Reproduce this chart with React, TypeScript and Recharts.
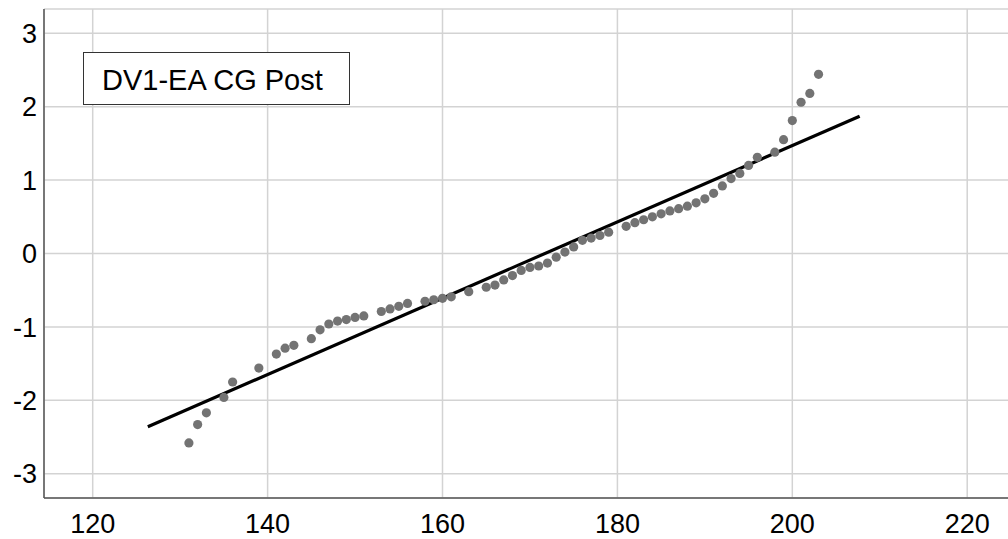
import { ScatterChart, Scatter, XAxis, YAxis, CartesianGrid, ReferenceLine } from 'recharts'

const observed = [
  131, 132, 133, 135, 136, 139, 141, 142, 143, 145, 146, 147, 148, 149, 150, 151,
  153, 154, 155, 156, 158, 159, 160, 161, 163, 165, 166, 167, 168, 169, 170, 171,
  172, 173, 174, 175, 176, 177, 178, 179, 181, 182, 183, 184, 185, 186, 187, 188,
  189, 190, 191, 192, 193, 194, 195, 196, 198, 199, 200, 201, 202, 203
]
const expected = [
  -2.58, -2.33, -2.17, -1.96, -1.75, -1.56, -1.37, -1.29, -1.25, -1.16, -1.04, -0.96, -0.92, -0.9, -0.87, -0.85,
  -0.79, -0.755, -0.72, -0.68, -0.65, -0.63, -0.61, -0.59, -0.52, -0.46, -0.43, -0.36, -0.3, -0.23, -0.19, -0.17,
  -0.13, -0.05, 0.02, 0.09, 0.18, 0.21, 0.245, 0.29, 0.37, 0.42, 0.46, 0.5, 0.54, 0.58, 0.61, 0.645,
  0.69, 0.745, 0.82, 0.92, 1.02, 1.09, 1.2, 1.31, 1.38, 1.55, 1.81, 2.06, 2.18, 2.44
]
// reference line end points
const lineX = [126.3, 207.7]
const lineY = [-2.36, 1.87]

const xTicks = [120, 140, 160, 180, 200, 220]
const yTicks = [-3, -2, -1, 0, 1, 2, 3]
const title = 'DV1-EA CG Post'

const points = observed.map((v, i) => ({ x: v, y: expected[i] }))

const font = '"Liberation Sans", Arial, sans-serif'

const Dot = (props: any) => <circle cx={props.cx} cy={props.cy} r={4.6} fill="#737373" />

export default function App() {
  return (
    <div style={{ position: 'absolute', left: 0, top: 0, width: 1008, height: 539, overflow: 'hidden', background: '#fff', fontFamily: font }}>
      <ScatterChart width={1014} height={539} margin={{ top: 9, right: 0, bottom: 0, left: 0 }}>
        <CartesianGrid stroke="#d3d3d3" strokeWidth={1.5} />
        <XAxis
          type="number"
          dataKey="x"
          domain={[114.43, 225.35]}
          ticks={xTicks}
          height={41}
          allowDataOverflow
          tickLine={false}
          tickSize={0}
          tickMargin={16}
          axisLine={{ stroke: '#555', strokeWidth: 1.5 }}
          tick={{ fill: '#000', fontSize: 27, fontFamily: font }}
        />
        <YAxis
          type="number"
          dataKey="y"
          domain={[-3.33, 3.33]}
          ticks={yTicks}
          width={44}
          allowDataOverflow
          tickLine={false}
          tickSize={0}
          tickMargin={7}
          axisLine={{ stroke: '#555', strokeWidth: 1.5 }}
          tick={{ fill: '#000', fontSize: 27, fontFamily: font }}
        />
        <ReferenceLine
          segment={[{ x: lineX[0], y: lineY[0] }, { x: lineX[1], y: lineY[1] }]}
          stroke="#000"
          strokeWidth={3.2}
        />
        <Scatter data={points} shape={Dot} isAnimationActive={false} />
      </ScatterChart>
      <div
        style={{
          position: 'absolute',
          left: 83,
          top: 52,
          width: 267,
          height: 53,
          boxSizing: 'border-box',
          border: '1.5px solid #333',
          background: '#fff',
          display: 'flex',
          alignItems: 'center',
          paddingLeft: 18,
          paddingTop: 3,
          fontSize: 29,
          color: '#000',
        }}
      >
        {title}
      </div>
    </div>
  )
}
